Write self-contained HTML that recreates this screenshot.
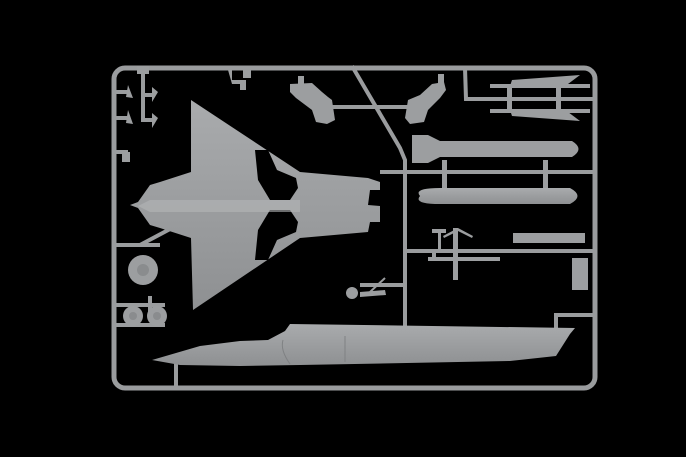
<!DOCTYPE html>
<html><head><style>html,body{margin:0;padding:0;background:#000;}svg{display:block}</style></head>
<body>
<svg width="686" height="457" viewBox="0 0 686 457" xmlns="http://www.w3.org/2000/svg">
<rect width="686" height="457" fill="#000"/>
<defs>
<linearGradient id="g" x1="0" y1="0" x2="0" y2="1"><stop offset="0" stop-color="#a9abad"/><stop offset="1" stop-color="#8e9092"/></linearGradient>
</defs>
<g fill="#9c9ea0" stroke="none">
<!-- frame -->
<rect x="114" y="68" width="481" height="320" rx="11" fill="none" stroke="#9a9c9e" stroke-width="5"/>
<g stroke="#9a9c9e" stroke-width="4" fill="none">
<!-- diagonal sprue -->
<polyline points="352,66 400,148 405,160 405,330"/>
<line x1="405" y1="251" x2="593" y2="251"/>
<line x1="405" y1="172" x2="593" y2="172"/>
<polyline points="465,68 466,99 593,99"/>
<line x1="330" y1="107" x2="420" y2="107"/>
<line x1="405" y1="285" x2="360" y2="285"/>
<line x1="114" y1="245" x2="160" y2="245"/>
<line x1="140" y1="245" x2="172" y2="228"/>
<line x1="114" y1="305" x2="165" y2="305"/>
<line x1="114" y1="325" x2="165" y2="325"/>
<line x1="176" y1="363" x2="176" y2="388"/>
<polyline points="556,328 556,315 595,315"/>
<line x1="143" y1="68" x2="143" y2="122"/>
<line x1="114" y1="92" x2="128" y2="92"/>
<line x1="114" y1="118" x2="128" y2="118"/>
<line x1="114" y1="152" x2="128" y2="152"/>
<line x1="143" y1="95" x2="155" y2="95"/>
<line x1="143" y1="120" x2="155" y2="120"/>
<line x1="380" y1="172" x2="405" y2="172"/>
<line x1="150" y1="296" x2="150" y2="320"/>
</g>
<!-- left small parts -->
<rect x="137" y="66" width="12" height="8"/>
<path d="M128,85 L133,98 L126,97Z M128,110 L133,124 L126,123Z M152,87 L158,92 L152,102Z M152,113 L158,118 L152,128Z"/>
<rect x="122" y="152" width="8" height="10"/>
<!-- top small parts -->
<path d="M228,70 h4 v10 h14 v10 h-6 v-6 h-8 Z"/><rect x="243" y="70" width="8" height="8"/>
<!-- intakes -->
<path d="M290,84 L312,83 L322,92 L328,97 L332,100 L335,120 L327,124 L316,122 L312,110 L296,98 L290,92Z"/>
<path d="M444,82 L432,84 L420,95 L408,100 L405,118 L410,124 L424,122 L428,110 L440,98 L446,90Z"/>
<rect x="298" y="76" width="6" height="8"/><rect x="438" y="74" width="6" height="10"/>
<!-- delta planform -->
<path fill="url(#g)" d="M191,100 L300,172 L368,178 L380,182 L380,190 L370,190 L368,205 L380,206 L380,222 L370,222 L368,232 L300,238 L193,310 L191,238 L160,228 L150,225 L138,208 L130,205 L138,202 L150,185 L160,182 L191,172Z"/>
<path fill="#000" d="M255,150 L268,150 L277,170 L296,178 L298,188 L290,200 L270,200 L258,180Z"/>
<path fill="#000" d="M255,260 L268,260 L277,240 L296,232 L298,222 L290,210 L270,210 L258,230Z"/>
<path fill="#b4b6b8" d="M150,200 L300,200 L300,212 L150,212 L138,206Z" opacity="0.6"/>
<!-- wheels -->
<circle cx="143" cy="270" r="15"/><circle cx="143" cy="270" r="6" fill="#8a8c8e"/>
<circle cx="133" cy="316" r="10"/><circle cx="157" cy="316" r="10"/>
<circle cx="133" cy="316" r="4" fill="#8a8c8e"/><circle cx="157" cy="316" r="4" fill="#8a8c8e"/>
<!-- tanks -->
<path d="M412,135 L428,135 L440,141 L572,141 Q585,149 572,157 L440,157 L428,163 L412,163 Z"/>
<path fill="url(#g)" d="M420,196 Q413,188 440,188 L570,188 Q585,196 570,204 L440,204 Q413,204 420,196Z"/>
<rect x="442" y="160" width="5" height="28"/><rect x="543" y="160" width="5" height="28"/>
<!-- missiles -->
<path d="M512,80 L580,75 L568,84 L510,86Z"/><rect x="490" y="84" width="100" height="4"/>
<path d="M512,116 L580,121 L568,112 L510,110Z"/><rect x="490" y="109" width="100" height="4"/>
<rect x="507" y="84" width="5" height="28"/><rect x="556" y="84" width="5" height="28"/>
<!-- landing gear etc -->
<rect x="453" y="228" width="5" height="52"/>
<path d="M443,236 L458,228 L473,236 L472,238 L458,231 L444,238Z"/>
<rect x="428" y="257" width="72" height="4"/>
<rect x="437" y="253" width="4" height="8" transform="translate(-5,0)"/>
<rect x="438" y="232" width="3" height="18"/><rect x="432" y="229" width="14" height="4"/>
<rect x="513" y="233" width="72" height="10"/>
<rect x="572" y="258" width="16" height="32"/>
<circle cx="352" cy="293" r="6"/>
<path d="M360,292 L385,290 L386,295 L360,297Z"/><line x1="370" y1="292" x2="385" y2="278" stroke="#9a9c9e" stroke-width="2"/>
<!-- fuselage side -->
<path fill="url(#g)" d="M152,360 L200,346 L240,341 L268,340 L285,331 L290,324 L575,328 L570,334 L556,356 L510,361 L300,365 L240,366 L180,365Z"/>
<path fill="none" stroke="#7f8183" stroke-width="1" d="M345,336 L345,362 M283,340 Q280,350 290,364"/>
</g>
</svg>
</body></html>
